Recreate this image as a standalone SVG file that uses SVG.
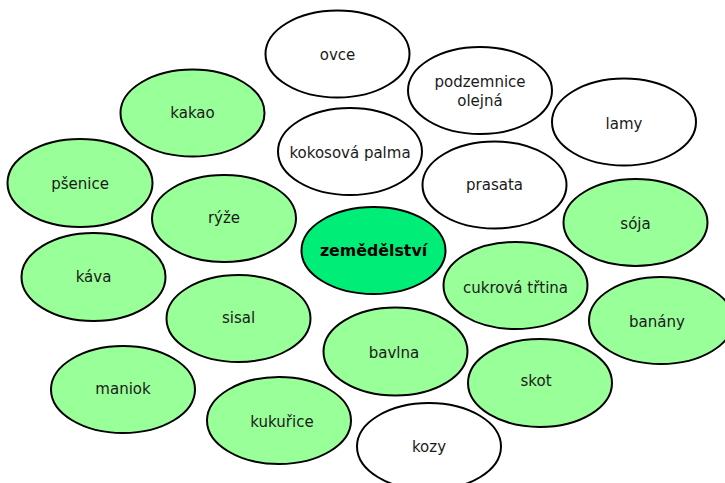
<svg xmlns="http://www.w3.org/2000/svg" width="725" height="483" viewBox="0 0 725 483">
<style>
.n ellipse{stroke:#000;stroke-width:2}
.w ellipse{fill:#fff}
.g ellipse{fill:#99ff99}
.c ellipse{fill:#00ee77}
text{font-family:"DejaVu Sans",Verdana,sans-serif;font-size:15px;fill:#1a1a1a;text-anchor:middle;dominant-baseline:central}
.c text{font-weight:bold;font-size:15.8px;fill:#000}
</style>
<rect width="725" height="483" fill="#fff"/>
<g id="connectors"/>
<g id="ovce" class="n w"><ellipse cx="337.5" cy="54" rx="72" ry="43.5"/><text x="337.5" y="55">ovce</text></g>
<g id="podzemnice" class="n w"><ellipse cx="480" cy="90.5" rx="72" ry="43.5"/><text x="480" y="82">podzemnice</text><text x="480" y="101">olejná</text></g>
<g id="lamy" class="n w"><ellipse cx="624" cy="122" rx="72" ry="43.5"/><text x="624" y="124">lamy</text></g>
<g id="kakao" class="n g"><ellipse cx="192.5" cy="113" rx="72" ry="43.5"/><text x="192.5" y="113">kakao</text></g>
<g id="kokosova" class="n w"><ellipse cx="350" cy="151.5" rx="72" ry="43.5"/><text x="350" y="153">kokosová palma</text></g>
<g id="psenice" class="n g"><ellipse cx="80" cy="183" rx="72.5" ry="44"/><text x="80" y="184">pšenice</text></g>
<g id="ryze" class="n g"><ellipse cx="224" cy="218.5" rx="72" ry="43.5"/><text x="224" y="218">rýže</text></g>
<g id="prasata" class="n w"><ellipse cx="494.5" cy="185" rx="72" ry="43.5"/><text x="494.5" y="185">prasata</text></g>
<g id="soja" class="n g"><ellipse cx="635.5" cy="222.5" rx="72" ry="43.5"/><text x="635.5" y="224">sója</text></g>
<g id="zemedelstvi" class="n c"><ellipse cx="373.5" cy="250.5" rx="72" ry="43.5"/><text x="373.5" y="250">zemědělství</text></g>
<g id="kava" class="n g"><ellipse cx="93.5" cy="277" rx="72" ry="44"/><text x="93.5" y="277">káva</text></g>
<g id="cukrova" class="n g"><ellipse cx="515.5" cy="285.5" rx="72" ry="43.5"/><text x="515.5" y="288">cukrová třtina</text></g>
<g id="sisal" class="n g"><ellipse cx="238.5" cy="318.5" rx="72" ry="43.5"/><text x="238.5" y="318">sisal</text></g>
<g id="banany" class="n g"><ellipse cx="661" cy="320.5" rx="72" ry="43.5"/><text x="657" y="322">banány</text></g>
<g id="bavlna" class="n g"><ellipse cx="395.5" cy="351.5" rx="72" ry="44"/><text x="394" y="353">bavlna</text></g>
<g id="skot" class="n g"><ellipse cx="540" cy="383" rx="72" ry="44"/><text x="536" y="381">skot</text></g>
<g id="maniok" class="n g"><ellipse cx="123" cy="389.5" rx="72" ry="43.5"/><text x="123" y="389">maniok</text></g>
<g id="kukurice" class="n g"><ellipse cx="279" cy="420.5" rx="72" ry="43.5"/><text x="282" y="422">kukuřice</text></g>
<g id="kozy" class="n w"><ellipse cx="429" cy="446.5" rx="72" ry="43.5"/><text x="429" y="447">kozy</text></g>
</svg>
